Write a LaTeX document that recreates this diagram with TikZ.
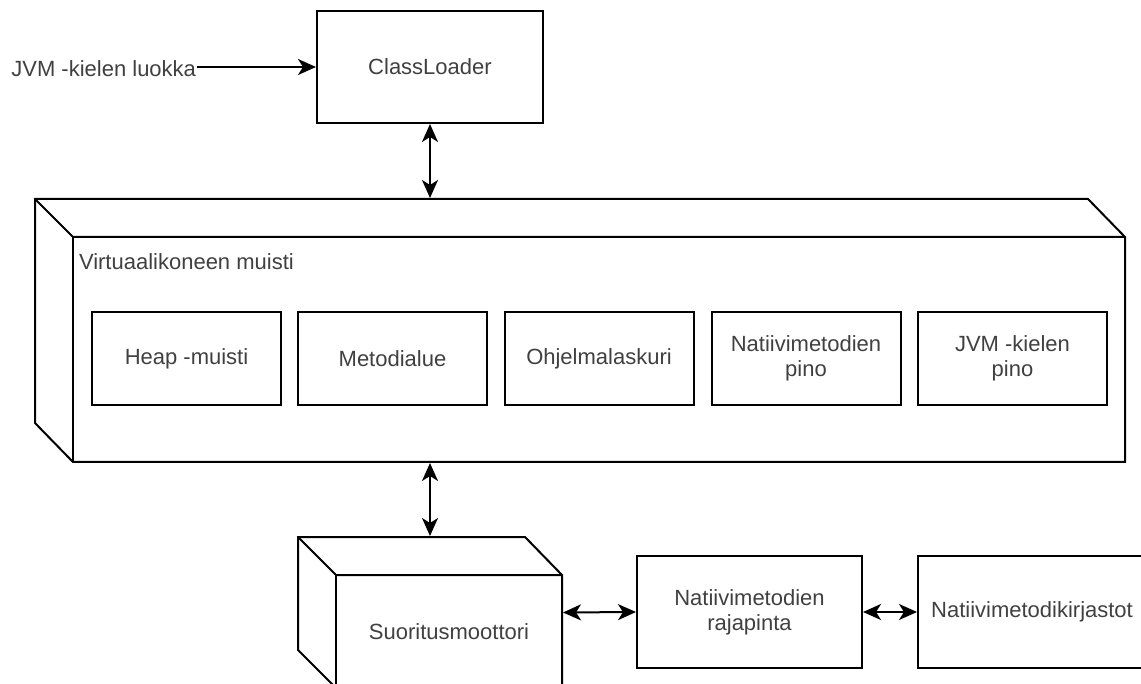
\documentclass[tikz,border=0pt]{standalone}
\usepackage{fontspec}
\setmainfont{Liberation Sans}
\usetikzlibrary{arrows.meta}
\begin{document}
\begin{tikzpicture}[x=1pt,y=-1pt,
  line width=2pt, line join=miter,
  txt/.style={text=black!75, font=\fontsize{22}{25}\selectfont, align=center},
  box/.style={draw, txt, inner sep=0pt},
  arr/.style={-{Stealth[length=18pt,width=16pt,inset=5pt]}},
  darr/.style={{Stealth[length=18pt,width=16pt,inset=5pt]}-{Stealth[length=18pt,width=16pt,inset=5pt]}},
]
\useasboundingbox (0,0) rectangle (1141,684);

% top
\node[txt, anchor=east, inner sep=0pt] (jvm) at (197,69) {JVM -kielen luokka};
\node[box, minimum width=226pt, minimum height=112pt] (cl) at (430,67) {ClassLoader};

% virtual machine memory (cube)
\node[inner sep=0pt, minimum width=1090pt, minimum height=263pt] (vm) at (580,330.5) {};
\draw (35,199) -- (1088,199) -- (1125,237) -- (1125,462) -- (73,462) -- (35,423) -- cycle;
\draw (35,199) -- (73,237) -- (1125,237);
\draw (73,237) -- (73,462);
\node[txt, anchor=base west, inner sep=0pt] (vmlabel) at (78,270) {Virtuaalikoneen muisti};

\node[box, minimum width=189pt, minimum height=93pt] (heap) at (186.5,358.5) {Heap -muisti};
\node[box, minimum width=189pt, minimum height=93pt] (meto) at (392.5,358.5) {Metodialue};
\node[box, minimum width=189pt, minimum height=93pt] (ohj) at (599,358.5) {Ohjelmalaskuri};
\node[box, minimum width=189pt, minimum height=93pt] (npino) at (806,358.5) {Natiivimetodien\\pino};
\node[box, minimum width=189pt, minimum height=93pt] (jpino) at (1012.5,358.5) {JVM -kielen\\pino};

% execution engine (cube)
\node[inner sep=0pt, minimum width=264pt, minimum height=151pt] (se) at (430,612.5) {};
\draw (298,537) -- (525,537) -- (562,575) -- (562,688) -- (336,688) -- (298,650) -- cycle;
\draw (298,537) -- (336,575) -- (562,575);
\draw (336,575) -- (336,688);
\node[txt, inner sep=0pt] (selabel) at (449,631.5) {Suoritusmoottori};

\node[box, minimum width=225pt, minimum height=112pt] (raj) at (749.5,612) {Natiivimetodien\\rajapinta};
\node[box, minimum width=228pt, minimum height=112pt] (kir) at (1032,612) {Natiivimetodikirjastot};

% connectors
\draw[arr] (jvm.east |- cl.west) -- (cl.west);
\draw[darr] (cl.south) -- (vm.north -| cl.south);
\draw[darr] (vm.south -| se.north) -- (se.north);
\draw[darr] (se.east) -- (raj.west);
\draw[darr] (raj.east) -- (kir.west);
\end{tikzpicture}
\end{document}
